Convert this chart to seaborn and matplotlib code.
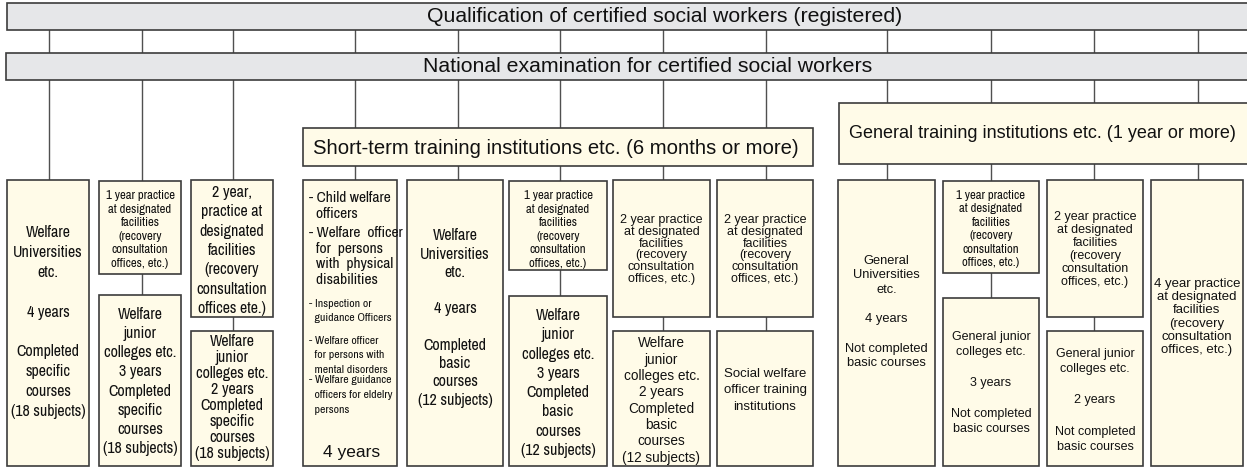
import seaborn as sns
import matplotlib.pyplot as plt
from matplotlib.patches import Rectangle

# texts
top_title = 'Qualification of certified social workers (registered)'
exam_title = 'National examination for certified social workers'
short_title = 'Short-term training institutions etc. (6 months or more)'
general_title = 'General training institutions etc. (1 year or more)'

practice_1y = '1 year practice\nat designated\nfacilities\n(recovery\nconsultation\noffices, etc.)'
practice_2y = '2 year practice\nat designated\nfacilities\n(recovery\nconsultation\noffices, etc.)'
practice_2y_c = '2 year,\npractice at\ndesignated\nfacilities\n(recovery\nconsultation\noffices ete.)'
practice_4y = '4 year practice\nat designated\nfacilities\n(recovery\nconsultation\noffices, etc.)'

welfare_univ_spec = 'Welfare\nUniversities\netc.\n\n4 years\n\nCompleted\nspecific\ncourses\n(18 subjects)'
welfare_jc3_spec = 'Welfare\njunior\ncolleges etc.\n3 years\nCompleted\nspecific\ncourses\n(18 subjects)'
welfare_jc2_spec = 'Welfare\njunior\ncolleges etc.\n2 years\nCompleted\nspecific\ncourses\n(18 subjects)'
welfare_univ_basic = 'Welfare\nUniversities\netc.\n\n4 years\n\nCompleted\nbasic\ncourses\n(12 subjects)'
welfare_jc3_basic = 'Welfare\njunior\ncolleges etc.\n3 years\nCompleted\nbasic\ncourses\n(12 subjects)'
welfare_jc2_basic = 'Welfare\njunior\ncolleges etc.\n2 years\nCompleted\nbasic\ncourses\n(12 subjects)'
officer_school = 'Social welfare\nofficer training\ninstitutions'
general_univ = 'General\nUniversities\netc.\n\n4 years\n\nNot completed\nbasic courses'
general_jc3 = 'General junior\ncolleges etc.\n\n3 years\n\nNot completed\nbasic courses'
general_jc2 = 'General junior\ncolleges etc.\n\n2 years\n\nNot completed\nbasic courses'

officer_items = ['- Child welfare\n  officers',
                 '- Welfare  officer\n  for  persons\n  with  physical\n  disabilities',
                 '- Inspection or\n  guidance Officers',
                 '- Welfare officer\n  for persons with\n  mental disorders',
                 '- Welfare guidance\n  officers for eldelry\n  persons']
officer_years = '4 years'

# column layout: connector x, upper box label, lower box label
line_x = [49, 142, 233, 355, 458, 560, 663, 766, 887, 991, 1094, 1198]
upper_text = [welfare_univ_spec, practice_1y, practice_2y_c, None, welfare_univ_basic,
              practice_1y, practice_2y, practice_2y, general_univ, practice_1y,
              practice_2y, practice_4y]
lower_text = [None, welfare_jc3_spec, welfare_jc2_spec, None, None,
              welfare_jc3_basic, welfare_jc2_basic, officer_school, None,
              general_jc3, general_jc2, None]
box_x = [(7, 89), (99, 181), (191, 273), (303, 397), (407, 503), (509, 607),
         (613, 710), (717, 813), (838, 935), (943, 1039), (1047, 1143), (1151, 1243)]
upper_y = [(180, 466), (181, 274), (180, 317), (180, 466), (180, 466), (181, 270),
           (180, 317), (180, 317), (180, 466), (181, 273), (180, 317), (180, 466)]
lower_y = [None, (295, 466), (331, 466), None, None, (296, 466),
           (331, 466), (331, 466), None, (298, 466), (331, 466), None]

NARROW = ['Archivo Narrow', 'Roboto Condensed', 'Liberation Sans', 'DejaVu Sans']
REG = ['Liberation Sans', 'DejaVu Sans']
# style per box: (family, size, linespacing, vertical shift)
upper_style = [(NARROW, 11.5, 1.40, -1), (NARROW, 9.2, 1.27, 2), (NARROW, 11.5, 1.36, 2), None,
               (NARROW, 11.5, 1.27, -5), (NARROW, 9.2, 1.27, 4), (REG, 9, 0.98, 1),
               (REG, 9, 0.98, 1), (REG, 9.3, 1.29, -11), (NARROW, 9.2, 1.27, 2),
               (REG, 9, 1.12, 1), (REG, 9.5, 1.12, -6)]
lower_style = [None, (NARROW, 11.5, 1.35, 1), (NARROW, 11.5, 1.08, -1), None, None,
               (NARROW, 11.5, 1.36, 2), (REG, 9.8, 1.21, 2), (REG, 9.5, 1.48, -8), None,
               (REG, 9, 1.38, 1), (REG, 9, 1.40, 2), None]

sns.set_theme(style='white')
plt.rcParams['font.family'] = REG

box_fill = '#fffbe8'
bar_fill = '#e6e7e9'
edge = '#3c3c3c'

fig = plt.figure(figsize=(12.47, 4.68), dpi=100)
ax = fig.add_axes([0, 0, 1, 1])
ax.set_xlim(0, 1247)
ax.set_ylim(468, 0)
ax.set_axis_off()


def box(x0, x1, y0, y1, fill, lw=1.2):
    ax.add_patch(Rectangle((x0, y0), x1 - x0, y1 - y0, facecolor=fill,
                           edgecolor=edge, lw=lw, zorder=2))


# connector lines (behind all boxes)
for i, x in enumerate(line_x):
    bottom = (lower_y[i] or upper_y[i])[1]
    ax.plot([x, x], [30, bottom - 5], color='#505050', lw=1, zorder=1)

# header bars
box(7, 1260, 3, 30, bar_fill)
box(6, 1260, 53, 80, bar_fill)
ax.text(665, 17, top_title, ha='center', va='center', fontsize=15.3, color='#111111', zorder=3)
ax.text(648, 67, exam_title, ha='center', va='center', fontsize=15.3, color='#111111', zorder=3)

box(303, 813, 128, 166, box_fill)
ax.text(556, 148, short_title, ha='center', va='center', fontsize=14.6, color='#111111', zorder=3)
box(839, 1260, 103, 164, box_fill)
ax.text(1042, 134, general_title, ha='center', va='center', fontsize=13, color='#111111', zorder=3)

# bottom boxes
for i in range(len(line_x)):
    x0, x1 = box_x[i]
    for txt, yy, st in [(upper_text[i], upper_y[i], upper_style[i]),
                        (lower_text[i], lower_y[i], lower_style[i])]:
        if yy is None:
            continue
        box(x0, x1, yy[0], yy[1], box_fill)
        if txt is None:
            continue
        fam, size, ls, dy = st
        ax.text((x0 + x1) / 2, (yy[0] + yy[1]) / 2 + dy, txt, ha='center', va='center',
                multialignment='center', family=fam, fontsize=size, linespacing=ls,
                color='#111111', zorder=3)

# officer list box
item_y = [191, 226, 299, 336, 375]
item_size = [11.2, 11.2, 8.5, 8.5, 8.5]
item_ls = [1.15, 1.15, 1.55, 1.55, 1.6]
for txt, y, s, ls in zip(officer_items, item_y, item_size, item_ls):
    ax.text(309, y, txt, ha='left', va='top', family=NARROW, fontsize=s,
            linespacing=ls, color='#111111', zorder=3)
ax.text(352, 453, officer_years, ha='center', va='center', family=REG, fontsize=12.5,
        color='#111111', zorder=3)

fig.savefig('out.png', dpi=100)
